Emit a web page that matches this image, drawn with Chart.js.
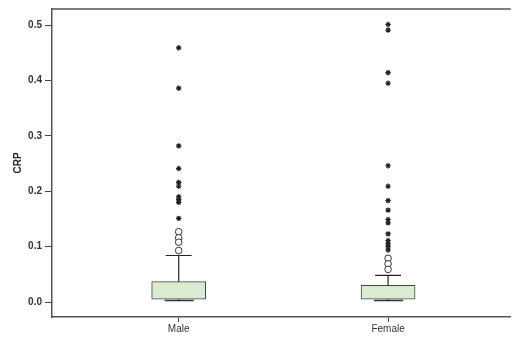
<!DOCTYPE html>
<html>
<head>
<meta charset="utf-8">
<script src="https://cdn.jsdelivr.net/npm/chart.js@4"></script>
<style>
    html, body { margin: 0; padding: 0; background: #fff; }
    #wrap { width: 516px; height: 342px; }
</style>
</head>
<body>
<div id="wrap"><canvas id="chart"></canvas></div>
<script>
const groups = ["Male", "Female"];
const positions = [1, 2];
const q1 = [0.005, 0.005];
const medians = [0.0138, 0.010];
const q3 = [0.037, 0.030];
const whiskerLow = [0.003, 0.003];
const whiskerHigh = [0.084, 0.048];
const circleOutliers = [
    [0.127, 0.116, 0.108, 0.093],
    [0.079, 0.069, 0.059]
];
const starOutliers = [
    [0.459, 0.386, 0.282, 0.241, 0.216, 0.209, 0.19, 0.185, 0.18, 0.151],
    [0.501, 0.491, 0.414, 0.395, 0.246, 0.209, 0.183, 0.166, 0.149, 0.143, 0.123, 0.111, 0.105, 0.100, 0.094]
];
const yTicks = [0, 0.1, 0.2, 0.3, 0.4, 0.5];

const boxHalf = 0.128;
const capHalf = 0.062;

function segment(x1, y1, x2, y2, color, width) {
    return {
        type: "line",
        data: [{x: x1, y: y1}, {x: x2, y: y2}],
        borderColor: color,
        borderWidth: width,
        pointRadius: 0,
        fill: false
    };
}

const datasets = [];

// whiskers and caps
for (let i = 0; i < groups.length; i++) {
    const x = positions[i];
    datasets.push(segment(x, q3[i], x, whiskerHigh[i], "#222", 1.2));
    datasets.push(segment(x, q1[i], x, whiskerLow[i], "#222", 1.2));
    datasets.push(segment(x - capHalf, whiskerHigh[i], x + capHalf, whiskerHigh[i], "#222", 1.2));
    datasets.push(segment(x - capHalf - 0.005, whiskerLow[i], x + capHalf + 0.01, whiskerLow[i], "#333", 1.5));
}

// boxes
datasets.push({
    type: "bar",
    data: positions.map((x, i) => ({x: x, y: [q1[i], q3[i]]})),
    backgroundColor: "#d9ecd2",
    borderColor: "#444",
    borderWidth: 1,
    borderSkipped: false,
    barThickness: 54
});

// medians
for (let i = 0; i < groups.length; i++) {
    const x = positions[i];
    datasets.push(segment(x - boxHalf, medians[i], x + boxHalf, medians[i], "#1c2a1c", 2.6));
}

// outliers
datasets.push({
    type: "scatter",
    data: positions.flatMap((x, i) => circleOutliers[i].map(v => ({x: x, y: v}))),
    pointStyle: "circle",
    pointRadius: 3.3,
    backgroundColor: "#fff",
    borderColor: "#333",
    borderWidth: 1
});
datasets.push({
    type: "scatter",
    data: positions.flatMap((x, i) => starOutliers[i].map(v => ({x: x, y: v}))),
    pointStyle: "star",
    pointRadius: 2.7,
    backgroundColor: "#222",
    borderColor: "#222",
    borderWidth: 1.2
});

const frameTop = {
    id: "frameTop",
    afterDraw(chart) {
        const a = chart.chartArea;
        const ctx = chart.ctx;
        ctx.save();
        ctx.strokeStyle = "#555";
        ctx.lineWidth = 1.5;
        ctx.beginPath();
        ctx.moveTo(a.left, a.top);
        ctx.lineTo(a.right, a.top);
        ctx.stroke();
        ctx.restore();
    }
};

new Chart(document.getElementById("chart"), {
    type: "bar",
    data: {datasets: datasets},
    options: {
        responsive: true,
        maintainAspectRatio: false,
        animation: false,
        layout: {padding: {top: 7, right: 4, left: 0, bottom: 0}},
        plugins: {legend: {display: false}, tooltip: {enabled: false}},
        scales: {
            x: {
                type: "linear",
                min: 0.395,
                max: 2.586,
                offset: false,
                afterBuildTicks: s => { s.ticks = positions.map(v => ({value: v})); },
                afterFit: s => { s.height = 25; },
                ticks: {
                    callback: v => groups[positions.indexOf(v)] || "",
                    color: "#333",
                    font: {family: "Liberation Sans", size: 10},
                    padding: 1,
                    maxRotation: 0
                },
                grid: {drawOnChartArea: false, offset: false, tickLength: 5, color: "#444"},
                border: {color: "#555", width: 1.5}
            },
            y: {
                min: -0.027,
                max: 0.529,
                afterBuildTicks: s => { s.ticks = yTicks.map(v => ({value: v})); },
                afterFit: s => { s.width = 52; },
                ticks: {
                    callback: v => v.toFixed(1),
                    color: "#333",
                    font: {family: "Liberation Sans", size: 10, weight: "bold"},
                    padding: 3
                },
                grid: {drawOnChartArea: false, tickLength: 7, color: "#444"},
                border: {color: "#555", width: 1.5},
                title: {
                    display: true,
                    text: "CRP",
                    color: "#222",
                    font: {family: "Liberation Sans", size: 10, weight: "bold"},
                    padding: {top: 12, bottom: 0}
                }
            }
        }
    },
    plugins: [frameTop]
});
</script>
</body>
</html>
